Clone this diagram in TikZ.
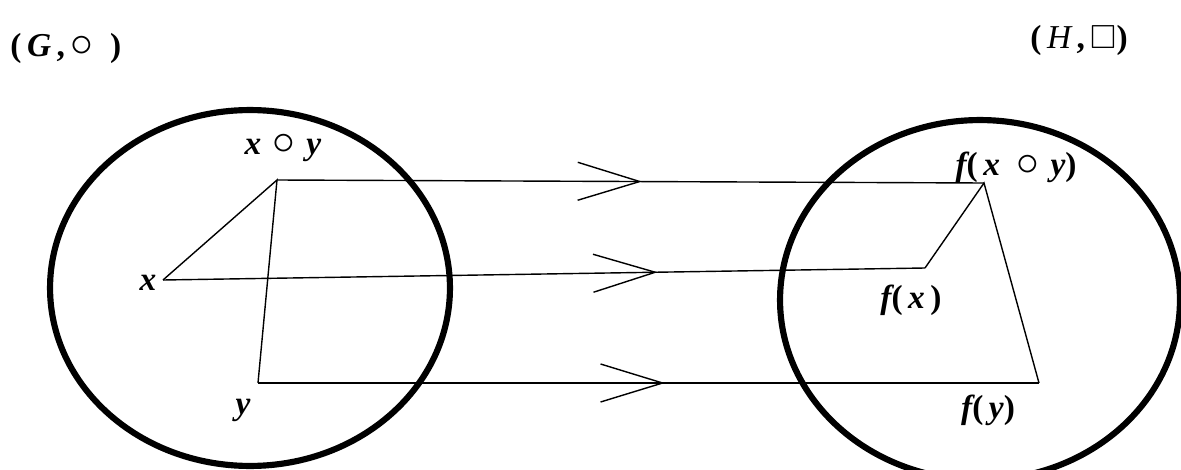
\documentclass[tikz,border=0pt]{standalone}
\usepackage{amssymb}
\usepackage{fontspec}
\setmainfont{Liberation Serif}
\usetikzlibrary{decorations.markings}

\newcommand{\opcirc}{\scalebox{1.5}{$\circ$}}

\begin{document}
\begin{tikzpicture}[
    x=0.02cm, y=-0.02cm,
    ring/.style={line width=3.5pt},
    edge/.style={line width=0.8pt},
    lbl/.style={font=\fontsize{19}{22}\selectfont\bfseries\itshape, inner sep=0pt},
    vtip/.style={postaction={decorate, decoration={markings,
        mark=at position #1 with {\draw[line width=0.8pt] (-62,19) -- (0,0) -- (-62,-19);}}}}
]
    \useasboundingbox (0,0) rectangle (1181,470);

    % the two groups
    \draw[ring] (250,288) ellipse [x radius=4cm, y radius=3.56cm];
    \draw[ring] (980,300) ellipse [x radius=4cm, y radius=3.6cm];

    \node[lbl, anchor=west] (gname) at (10,48) {\upshape(\,\itshape G\upshape\,,\,\opcirc\,\,\,)};
    \node[lbl, anchor=west] (hname) at (1030,40) {\upshape(\,\mdseries\itshape H\,\bfseries\upshape,\,$\square$)};

    % points in G
    \coordinate (pxy) at (277,180);
    \coordinate (px) at (163,280);
    \coordinate (py) at (258,383);

    % points in H
    \coordinate (fxy) at (984,183);
    \coordinate (fx) at (925,268);
    \coordinate (fy) at (1039,383);

    \node[lbl] (lxy) at (283,148) {x\,\,\opcirc\,\,y};
    \node[lbl] (lx) at (148,283) {x};
    \node[lbl] (ly) at (243,410) {y};
    \node[lbl] (lfxy) at (1016,167) {f\upshape(\,\itshape x\,\,\,\opcirc\,\,y\upshape)};
    \node[lbl] (lfx) at (911,300) {f\upshape(\,\itshape x\upshape\,)};
    \node[lbl] (lfy) at (988,410) {f\upshape(\,\itshape y\upshape)};

    \draw[edge] (px) -- (pxy) -- (py);
    \draw[edge] (fx) -- (fxy) -- (fy);

    % the map f
    \draw[edge, vtip=0.513] (pxy) -- (fxy);
    \draw[edge, vtip=0.646] (px) -- (fx);
    \draw[edge, vtip=0.518] (py) -- (fy);
\end{tikzpicture}
\end{document}
